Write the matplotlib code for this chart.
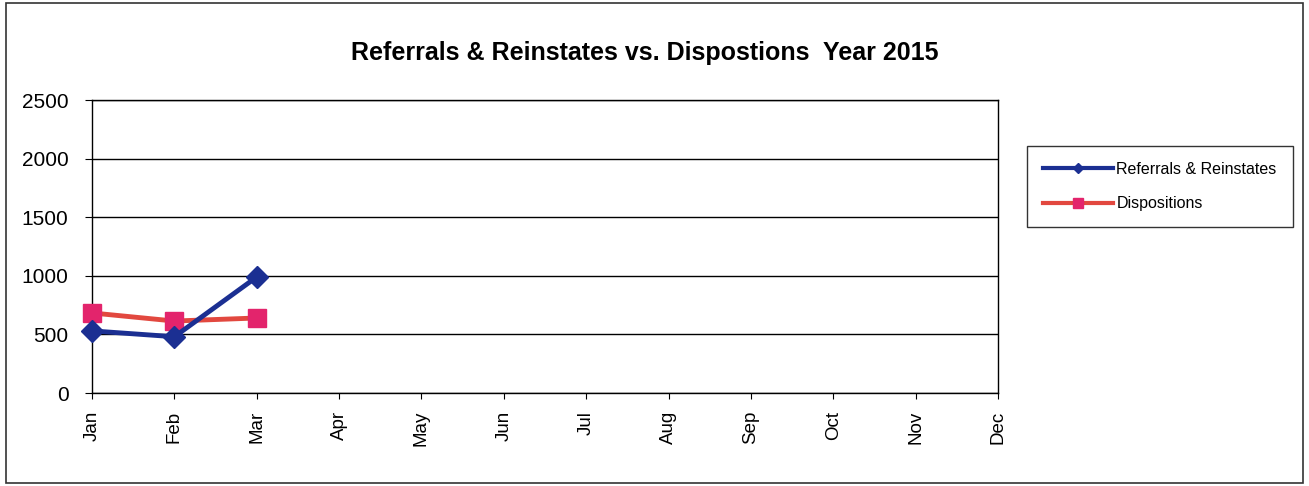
import matplotlib
matplotlib.use("Agg")
import matplotlib.pyplot as plt
from matplotlib.patches import Rectangle
from matplotlib.lines import Line2D

months = ["Jan", "Feb", "Mar", "Apr", "May", "Jun", "Jul", "Aug", "Sep", "Oct", "Nov", "Dec"]
referrals = [530, 480, 990]
dispositions = [683, 614, 640]
yticks = [0, 500, 1000, 1500, 2000, 2500]

plt.rcParams['font.family'] = ['Liberation Sans', 'DejaVu Sans']

fig = plt.figure(figsize=(13.09, 4.86), dpi=100)
fig.patches.append(Rectangle((6/1309, 3/486), 1297/1309, 480/486, transform=fig.transFigure,
                             fill=False, edgecolor='#333333', linewidth=1.2))
ax = fig.add_axes([92/1309, 1 - 393/486, (998-92)/1309, (393-100)/486])

x = list(range(len(months)))
ax.plot(x[:len(dispositions)], dispositions, color='#e2483f', linewidth=3.5, marker='s',
        markersize=13, markerfacecolor='#e3246c', markeredgecolor='#e3246c',
        label='Dispositions', zorder=3, clip_on=False)
ax.plot(x[:len(referrals)], referrals, color='#1b2f92', linewidth=3.5, marker='D',
        markersize=11, markerfacecolor='#1b2f92', markeredgecolor='#1b2f92',
        label='Referrals & Reinstates', zorder=4, clip_on=False)

ax.set_xlim(0, 11)
ax.set_ylim(0, 2500)
ax.set_xticks(x)
ax.set_xticklabels(months, rotation=90, fontsize=13.5)
ax.set_yticks(yticks)
ax.set_yticklabels([str(v) for v in yticks], fontsize=15)
ax.yaxis.grid(True, color='black', linewidth=1)
ax.set_axisbelow(True)
for s in ax.spines.values():
    s.set_color('black')
    s.set_linewidth(1)
ax.tick_params(axis='x', direction='out', length=4, color='black', pad=9)
ax.tick_params(axis='y', direction='out', length=5, color='black', pad=12)

fig.text(645/1309, 1 - 53/486, "Referrals & Reinstates vs. Dispostions  Year 2015",
         ha='center', va='center', fontsize=18, fontweight='bold')

h_ref = Line2D([], [], color='#1b2f92', linewidth=3, marker='D', markersize=5)
h_dis = Line2D([], [], color='#e2483f', linewidth=3, marker='s', markersize=7,
               markerfacecolor='#e3246c', markeredgecolor='#e3246c')
leg = fig.legend([h_ref, h_dis], ['Referrals & Reinstates', 'Dispositions'],
                 loc='upper left', bbox_to_anchor=(1027/1309, 1 - 146/486), borderaxespad=0,
                 fontsize=11.5, frameon=True, fancybox=False, edgecolor='black',
                 handlelength=4.4, handletextpad=0.2, labelspacing=1.2, borderpad=1.0)
leg.get_frame().set_linewidth(1)

fig.savefig("out.png", dpi=100)
